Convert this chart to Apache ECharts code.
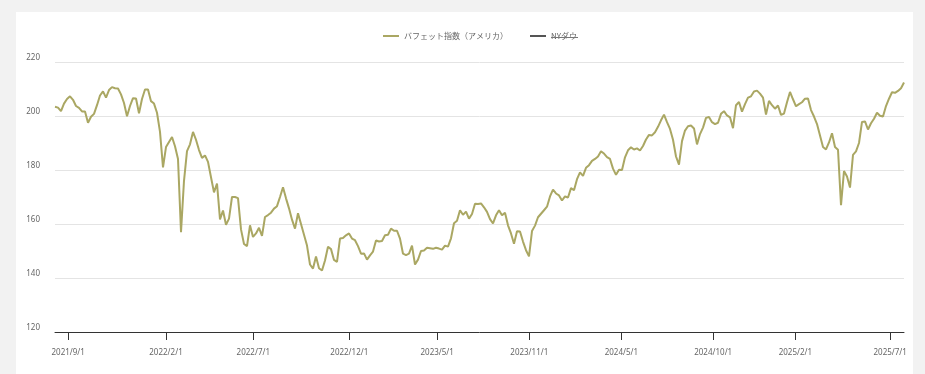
<!DOCTYPE html>
<html>
<head>
<meta charset="utf-8">
<script src="https://cdn.jsdelivr.net/npm/echarts@6/dist/echarts.min.js"></script>
<style>
html,body{margin:0;padding:0;background:#f2f2f2;}
#c{width:925px;height:374px;}
</style>
</head>
<body>
<div id="c"></div>
<script>
// Series names
var seriesNames = ['バフェット指数（アメリカ）', 'NYダウ'];

// Buffett indicator (USA), sampled evenly along the x axis (index = sample number)
var buffettValues = [
203.4,203.1,201.8,204.6,206.3,207.3,206,203.7,203,201.7,
201.7,197.5,199.7,200.8,204,207.6,209.1,206.8,209.6,210.7,
210.3,210.2,208,204.8,199.9,203.7,206.6,206.5,201,206.3,
209.8,209.8,205.5,204.6,201.2,194.1,181,188.5,190.4,192.2,
188.8,184.1,157,176,187,189.5,194.1,191.2,187.4,184.5,
185.4,183,177.3,171.7,175,161.7,165,159.7,162,170,
170,169.6,158,152.6,151.8,159.5,155.2,156.5,158.6,155.6,
162.6,163.3,164.2,165.7,166.6,170,173.6,169.5,165.8,161.6,
158.3,164,160,156,152,145,143.5,148,143.6,142.8,
146.5,151.6,150.7,146.7,146,154.6,154.8,155.8,156.5,154.6,
154,151.8,149,149.1,146.8,148.4,149.8,153.9,153.5,153.7,
155.8,156,158.3,157.5,157.5,154.6,149,148.5,149,152,
145,146.8,150,150.2,151.2,151,150.8,151.2,150.9,150.5,
152,151.6,154.7,160.3,161.2,165.1,163.4,164.6,162,163.7,
167.5,167.4,167.6,166.2,164.5,161.8,160.2,163.2,165.1,163.2,
164.2,159.5,156.5,152.7,157.3,157.2,153.5,150.3,148,157.4,
159.4,162.5,163.8,165.1,166.4,170.2,172.7,171.3,170.6,168.7,
170.2,169.8,173.3,172.5,176.6,179.1,177.8,180.8,181.8,183.4,
184.1,185,186.9,186.1,184.8,184.1,180.5,178.2,180.1,180,
184.7,187.3,188.4,187.6,188,187.2,188.9,191.3,193,192.8,
194,196,198.4,200.5,197.7,195.2,191.2,185,182,190.7,
194.6,196.2,196.5,195.4,189.5,193.3,195.7,199.3,199.6,197.7,
197,197.5,200.8,201.8,200.2,199.5,195.5,204,205.2,201.6,
204.4,206.8,207.3,209.1,209.4,208.3,206.8,200.5,205.6,204,
202.7,203.9,200.4,200.9,205.1,208.9,206.2,203.6,204.4,205.1,
206.4,206.5,202.2,199.8,197,192.8,188.5,187.6,190.2,193.6,
188.5,187.5,167,179.6,177.6,173.5,185.6,186.9,190,197.8,
198,195,197.3,199,201.2,200.1,199.8,203.7,206.4,208.8,
208.6,209.3,210.3,212.4
];

// NY Dow series is hidden in the reference (no visible line)
var dowValues = [];

// X tick labels and the sample index at which each date falls
var tickLabels = ['2021/9/1','2022/2/1','2022/7/1','2022/12/1','2023/5/1','2023/11/1','2024/5/1','2024/10/1','2025/2/1','2025/7/1'];
var tickIndex = [4.4, 37, 66.1, 98.1, 127.4, 158.1, 188.8, 219.4, 246.8, 278.4];

// Y axis
var yMin = 120, yMax = 220, yStep = 20;

var chart = echarts.init(document.getElementById('c'), null, {renderer: 'canvas'});

var labelMap = {};
tickIndex.forEach(function (v, k) { labelMap[v] = tickLabels[k]; });

var option = {
  backgroundColor: '#f2f2f2',
  animation: false,
  graphic: [
    {type: 'rect', z: -10, silent: true, shape: {x: 16, y: 12, width: 897, height: 380}, style: {fill: '#ffffff'}},
    {type: 'line', z: 100, silent: true, shape: {x1: 551, y1: 37.5, x2: 578, y2: 37.5}, style: {stroke: '#777', lineWidth: 1}}
  ],
  legend: {
    data: seriesNames,
    left: 378,
    top: 27,
    icon: 'rect',
    itemWidth: 16,
    itemHeight: 2,
    itemGap: 22,
    textStyle: {color: '#666', fontSize: 8, fontFamily: 'Noto Sans CJK JP'}
  },
  grid: {left: 55, right: 21, top: 62, bottom: 42, containLabel: false},
  xAxis: {
    type: 'value',
    min: 0,
    max: buffettValues.length - 1,
    splitLine: {show: false},
    axisLine: {show: true, lineStyle: {color: '#333', width: 1}},
    axisTick: {show: true, length: 8, lineStyle: {color: '#333'}, customValues: tickIndex},
    axisLabel: {
      customValues: tickIndex,
      margin: 17,
      color: '#666',
      fontSize: 8,
      fontFamily: 'Noto Sans',
      formatter: function (v) { return labelMap[v] || ''; }
    }
  },
  yAxis: {
    type: 'value',
    min: yMin,
    max: yMax,
    interval: yStep,
    axisLine: {show: false},
    axisTick: {show: false},
    splitLine: {lineStyle: {color: '#e4e4e4', width: 1}},
    axisLabel: {color: '#666', fontSize: 8, fontFamily: 'Noto Sans', margin: 15, verticalAlign: 'bottom'}
  },
  series: [
    {
      name: seriesNames[0],
      type: 'line',
      showSymbol: false,
      symbol: 'none',
      color: '#aaa763',
      lineStyle: {color: '#aaa763', width: 2},
      data: buffettValues.map(function (v, i) { return [i, v]; })
    },
    {
      name: seriesNames[1],
      type: 'line',
      showSymbol: false,
      symbol: 'none',
      color: '#555555',
      lineStyle: {color: '#555555', width: 2},
      data: dowValues
    }
  ]
};
chart.setOption(option);
</script>
</body>
</html>
